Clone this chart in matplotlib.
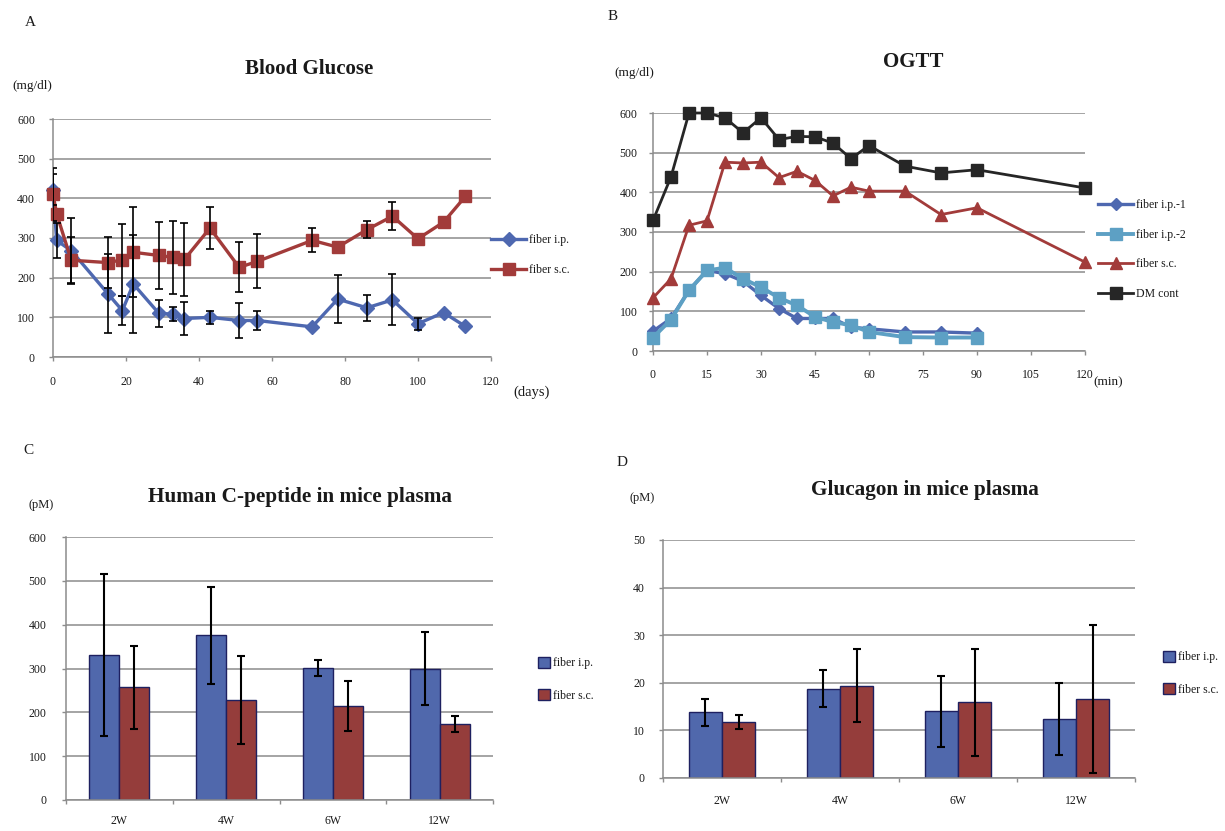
import matplotlib
matplotlib.use('Agg')
import matplotlib.pyplot as plt
import numpy as np

plt.rcParams['font.family'] = ['Liberation Serif', 'DejaVu Serif']
plt.rcParams['text.color'] = '#1a1a1a'
plt.rcParams['xtick.color'] = '#1a1a1a'
plt.rcParams['ytick.color'] = '#1a1a1a'

# ---- A: blood glucose ----
days = [0, 1, 5, 15, 19, 22, 29, 33, 36, 43, 51, 56, 71, 78, 86, 93, 100, 107, 113]
glu_ip = [422, 294, 268, 160, 117, 184, 110, 108, 97, 100, 92, 92, 76, 146, 124, 144, 84, 112, 77]
glu_ip_err = [40, 44, 83, 100, 37, 124, 34, 17, 42, 17, 44, 23, 0, 61, 32, 64, 15, 0, 0]
glu_sc = [410, 361, 244, 238, 245, 264, 256, 251, 246, 325, 226, 241, 294, 277, 321, 355, 298, 340, 405]
glu_sc_err = [67, 0, 58, 65, 91, 113, 85, 92, 91, 52, 63, 68, 30, 0, 21, 35, 0, 0, 0]

# ---- B: OGTT ----
t_full = [0, 5, 10, 15, 20, 25, 30, 35, 40, 45, 50, 55, 60, 70, 80, 90, 120]
t_ip = [0, 5, 10, 15, 20, 25, 30, 35, 40, 45, 50, 55, 60, 70, 80, 90]
ogtt_ip1 = [50, 82, 153, 203, 195, 176, 140, 107, 82, 82, 82, 60, 56, 48, 48, 45]
ogtt_ip2 = [34, 79, 153, 203, 210, 182, 161, 134, 115, 86, 73, 65, 48, 35, 34, 34]
ogtt_sc = [134, 182, 317, 328, 476, 474, 476, 437, 453, 430, 391, 413, 403, 403, 344, 361, 224]
ogtt_dm = [329, 439, 600, 600, 588, 550, 588, 533, 541, 540, 524, 485, 518, 466, 449, 457, 411]

# ---- C / D: plasma hormones ----
weeks = ['2W', '4W', '6W', '12W']
cpep_ip = [331, 376, 302, 300]
cpep_ip_err = [184, 111, 18, 84]
cpep_sc = [257, 228, 215, 173]
cpep_sc_err = [95, 100, 57, 18]
gcg_ip = [13.8, 18.8, 14.0, 12.4]
gcg_ip_err = [2.9, 3.8, 7.5, 7.6]
gcg_sc = [11.7, 19.4, 15.9, 16.6]
gcg_sc_err = [1.5, 7.6, 11.2, 15.6]

BLUE = '#4E68B0'
RED = '#A23B3A'
LBLUE = '#5DA0C4'
BLACK = '#262626'
GRID = '#8c8c8c'
BAR_BLUE = '#5068AC'
BAR_RED = '#953D3B'
BAR_EDGE = '#1E2060'

W, H = 1225, 831
fig = plt.figure(figsize=(W / 100, H / 100), dpi=100)


def px_axes(l, t, r, b):
    return fig.add_axes([l / W, 1 - b / H, (r - l) / W, (b - t) / H])


def ftext(x, y, s, **kw):
    fig.text(x / W, 1 - y / H, s, **kw)


def style_axes(ax, xpad, ypad):
    for s in ['top', 'right']:
        ax.spines[s].set_visible(False)
    for s in ['left', 'bottom']:
        ax.spines[s].set_color(GRID)
        ax.spines[s].set_linewidth(1.1)
    ax.yaxis.grid(True, color=GRID, linewidth=1.1)
    ax.set_axisbelow(True)
    ax.tick_params(axis='both', which='major', direction='out', length=3,
                   color=GRID, width=1.0, labelsize=8.5)
    ax.tick_params(axis='x', pad=xpad)
    ax.tick_params(axis='y', pad=ypad)


# ================= A =================
axA = px_axes(53, 119, 491, 357)
axA.plot(days, glu_ip, color=BLUE, lw=2.4, marker='D', ms=7, mfc=BLUE, mec=BLUE,
         label='fiber i.p.', zorder=3, clip_on=False)
axA.plot(days, glu_sc, color=RED, lw=2.4, marker='s', ms=9, mfc=RED, mec=RED,
         label='fiber s.c.', zorder=3, clip_on=False)
d = np.array(days)
for vals, errs in [(glu_ip, glu_ip_err), (glu_sc, glu_sc_err)]:
    v = np.array(vals)
    e = np.array(errs)
    m = e > 0
    axA.errorbar(d[m], v[m], yerr=e[m], fmt='none', ecolor='black', elinewidth=1.2,
                 capsize=2.8, capthick=1.2, zorder=4)
axA.set_xlim(0, 120)
axA.set_ylim(0, 600)
axA.set_xticks(range(0, 121, 20))
axA.set_yticks(range(0, 601, 100))
style_axes(axA, 11, 10)
axA.legend(loc='upper left', bbox_to_anchor=(491 / W, 1 - 234 / H), bbox_transform=fig.transFigure,
           frameon=False, fontsize=8.5, handlelength=3.0, handletextpad=0.2, borderpad=0,
           borderaxespad=0, labelspacing=1.5)
ftext(30, 22, 'A', fontsize=11, ha='center', va='center')
ftext(309, 69, 'Blood Glucose', fontsize=15, fontweight='bold', ha='center', va='center')
ftext(32, 86, '(mg/dl)', fontsize=9.5, ha='center', va='center')
ftext(532, 392, '(days)', fontsize=10.5, ha='center', va='center')

# ================= B =================
axB = px_axes(653, 113, 1085, 351)
axB.plot(t_ip, ogtt_ip1, color=BLUE, lw=2.4, marker='D', ms=6.5, mfc=BLUE, mec=BLUE,
         label='fiber i.p.-1', zorder=3, clip_on=False)
axB.plot(t_ip, ogtt_ip2, color=LBLUE, lw=2.8, marker='s', ms=9, mfc=LBLUE, mec=LBLUE,
         label='fiber i.p.-2', zorder=3, clip_on=False)
axB.plot(t_full, ogtt_sc, color=RED, lw=2.0, marker='^', ms=9, mfc=RED, mec=RED,
         label='fiber s.c.', zorder=3, clip_on=False)
axB.plot(t_full, ogtt_dm, color=BLACK, lw=2.0, marker='s', ms=8, mfc=BLACK, mec=BLACK,
         label='DM cont', zorder=3, clip_on=False)
axB.set_xlim(0, 120)
axB.set_ylim(0, 600)
axB.set_xticks(range(0, 121, 15))
axB.set_yticks(range(0, 601, 100))
style_axes(axB, 10, 8)
axB.legend(loc='upper left', bbox_to_anchor=(1098 / W, 1 - 199 / H), bbox_transform=fig.transFigure,
           frameon=False, fontsize=8.5, handlelength=3.0, handletextpad=0.2, borderpad=0,
           borderaxespad=0, labelspacing=1.5)
ftext(613, 16, 'B', fontsize=11, ha='center', va='center')
ftext(913, 62, 'OGTT', fontsize=15, fontweight='bold', ha='center', va='center')
ftext(634, 73, '(mg/dl)', fontsize=9.5, ha='center', va='center')
ftext(1108, 382, '(min)', fontsize=9.5, ha='center', va='center')


# ================= C / D =================
def bar_panel(ax, ip, ip_err, sc, sc_err, ymax, ystep, xpad, ypad, leg_x, leg_y):
    x = np.arange(len(weeks))
    w = 0.28
    ax.bar(x - w / 2, ip, w, color=BAR_BLUE, edgecolor=BAR_EDGE, linewidth=1.0,
           label='fiber i.p.', zorder=2)
    ax.bar(x + w / 2, sc, w, color=BAR_RED, edgecolor=BAR_EDGE, linewidth=1.0,
           label='fiber s.c.', zorder=2)
    ax.errorbar(x - w / 2, ip, yerr=ip_err, fmt='none', ecolor='black', elinewidth=1.5,
                capsize=3, capthick=1.5, zorder=3)
    ax.errorbar(x + w / 2, sc, yerr=sc_err, fmt='none', ecolor='black', elinewidth=1.5,
                capsize=3, capthick=1.5, zorder=3)
    ax.set_xlim(-0.5, len(weeks) - 0.5)
    ax.set_ylim(0, ymax)
    ax.set_yticks(np.arange(0, ymax + ystep / 2, ystep))
    ax.set_xticks(np.arange(-0.5, len(weeks), 1.0))
    ax.set_xticklabels([])
    ax.set_xticks(x, minor=True)
    ax.set_xticklabels(weeks, minor=True)
    style_axes(ax, xpad, ypad)
    ax.tick_params(axis='x', which='minor', length=0, labelsize=8.5, pad=xpad + 2)
    ax.legend(loc='upper left', bbox_to_anchor=(leg_x / W, 1 - leg_y / H),
              bbox_transform=fig.transFigure, frameon=False, fontsize=8.5,
              handlelength=1.0, handleheight=1.0, handletextpad=0.3, borderpad=0,
              borderaxespad=0, labelspacing=1.7)


axC = px_axes(66, 537, 493, 800)
bar_panel(axC, cpep_ip, cpep_ip_err, cpep_sc, cpep_sc_err, 600, 100, 9, 11, 538, 657)
ftext(28, 451, 'C', fontsize=11, ha='center', va='center')
ftext(300, 497, 'Human C-peptide in mice plasma', fontsize=15.3, fontweight='bold',
      ha='center', va='center')
ftext(41, 505, '(pM)', fontsize=9, ha='center', va='center')

axD = px_axes(663, 540, 1135, 778)
bar_panel(axD, gcg_ip, gcg_ip_err, gcg_sc, gcg_sc_err, 50, 10, 10, 10, 1163, 651)
ftext(622, 463, 'D', fontsize=11, ha='center', va='center')
ftext(925, 490, 'Glucagon in mice plasma', fontsize=15.3, fontweight='bold',
      ha='center', va='center')
ftext(642, 498, '(pM)', fontsize=9, ha='center', va='center')

fig.savefig('out.png', dpi=100)
